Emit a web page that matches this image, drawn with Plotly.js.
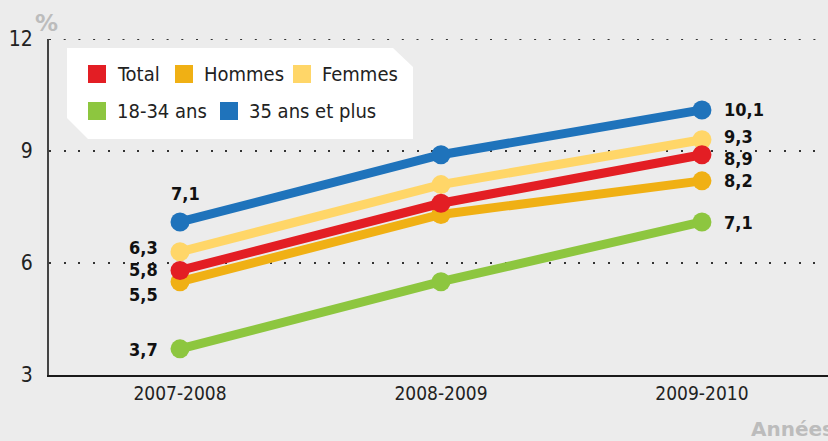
<!DOCTYPE html>
<html><head><meta charset="utf-8">
<script src="https://cdn.plot.ly/plotly-3.0.1.min.js"></script>
<style>html,body{margin:0;padding:0;background:#ececec;}#c{width:828px;height:441px;}</style>
</head><body><div id="c"></div>
<script>
const categories = ["2007-2008", "2008-2009", "2009-2010"];
const seriesNames = ["Total", "Hommes", "Femmes", "18-34 ans", "35 ans et plus"];
const total = [5.8, 7.6, 8.9];
const hommes = [5.5, 7.3, 8.2];
const femmes = [6.3, 8.1, 9.3];
const jeunes = [3.7, 5.5, 7.1];
const plus35 = [7.1, 8.9, 10.1];
const yTicks = [3, 6, 9, 12];
const labelledIdx = [0, 2]; // points carrying a value label

const values = [total, hommes, femmes, jeunes, plus35];
const colors = ["#e31e24", "#f0b014", "#ffd668", "#8dc63f", "#1f73bb"];
const drawOrder = [3, 1, 2, 0, 4];
// label placement [first point, last point]: [xanchor, xshift, yshift]
const labelPos = [
  [["right", -20, 1], ["left", 20, -4]],
  [["right", -20, -13], ["left", 20, 0]],
  [["right", -20, 4], ["left", 20, 3]],
  [["right", -20, -1], ["left", 20, -1]],
  [["center", 5, 28], ["left", 20, 0]]
];
const FONT = "'DejaVu Sans Condensed', 'DejaVu Sans', sans-serif";

const L = 49, R = 0, T = 39, B = 66, W = 828, H = 441;
const pw = W - L - R, ph = H - T - B;
const px = v => (v - L) / pw;
const py = v => (H - B - v) / ph;

const traces = drawOrder.map(i => ({
  type: "scatter", mode: "lines+markers",
  x: categories, y: values[i], name: seriesNames[i],
  line: {color: colors[i], width: 9},
  marker: {color: colors[i], size: 19},
  showlegend: false, hoverinfo: "skip", cliponaxis: false
}));

const annotations = [];
values.forEach((arr, i) => {
  labelledIdx.forEach((k, j) => {
    const p = labelPos[i][j];
    annotations.push({
      x: categories[k], y: arr[k], xref: "x", yref: "y",
      text: "<b>" + arr[k].toFixed(1).replace(".", ",") + "</b>",
      showarrow: false, xanchor: p[0], xshift: p[1], yshift: p[2],
      font: {family: FONT, size: 18, color: "#111"}
    });
  });
});
annotations.push({xref: "paper", yref: "paper", x: px(33), y: py(8), xanchor: "left", yanchor: "top", text: "<b>%</b>", showarrow: false, font: {family: "DejaVu Sans, sans-serif", size: 23, color: "#bcbcbc"}});
annotations.push({xref: "paper", yref: "paper", x: px(749), y: py(443), xanchor: "left", yanchor: "bottom", text: "<b>Années</b>", showarrow: false, font: {family: "DejaVu Sans, sans-serif", size: 20, color: "#bcbcbc"}});

const shapes = [];
// top dotted gridline (Plotly omits the grid line on the plot edge)
shapes.push({type: "line", xref: "paper", yref: "y", x0: 0, x1: 1, y0: yTicks[yTicks.length - 1], y1: yTicks[yTicks.length - 1], layer: "below",
  line: {color: "#333", width: 2, dash: "2px,12.7px"}});
// legend (manual)
const bx0 = 67, by0 = 48, bx1 = 413, by1 = 139;
shapes.push({type: "path", xref: "paper", yref: "paper", layer: "below",
  path: `M${px(bx0)},${py(by0)} L${px(393)},${py(by0)} L${px(bx1)},${py(67)} L${px(bx1)},${py(by1)} L${px(88)},${py(by1)} L${px(bx0)},${py(118)} Z`,
  fillcolor: "#ffffff", line: {width: 0}});
const legPos = [[88, 65], [175, 65], [293, 65], [88, 102], [220, 102]];
seriesNames.forEach((n, i) => {
  const [x, y] = legPos[i];
  shapes.push({type: "rect", xref: "paper", yref: "paper", x0: px(x), x1: px(x + 18), y0: py(y + 18), y1: py(y), fillcolor: colors[i], line: {width: 0}});
  annotations.push({xref: "paper", yref: "paper", x: px(x + 27), y: py(y + 9), xanchor: "left", yanchor: "middle", text: n, showarrow: false, font: {family: FONT, size: 20, color: "#222"}});
});

const layout = {
  width: W, height: H,
  margin: {l: L, r: R, t: T, b: B},
  paper_bgcolor: "#ececec", plot_bgcolor: "#ececec",
  showlegend: false,
  xaxis: {type: "category", range: [-0.502, 2.483], showgrid: false, zeroline: false,
    showline: true, linecolor: "#1a1a1a", linewidth: 2, ticks: "",
    tickfont: {family: FONT, size: 19, color: "#222"}, fixedrange: true},
  yaxis: {range: [3, 12], tickvals: yTicks, ticktext: yTicks.map(String),
    showgrid: true, gridcolor: "#333", gridwidth: 2, griddash: "2px,12.7px",
    zeroline: false, showline: true, linecolor: "#444", linewidth: 2, ticks: "",
    ticklabelstandoff: 10,
    tickfont: {family: FONT, size: 21, color: "#222"}, fixedrange: true},
  shapes: shapes, annotations: annotations
};
Plotly.newPlot("c", traces, layout, {staticPlot: true});
</script></body></html>
